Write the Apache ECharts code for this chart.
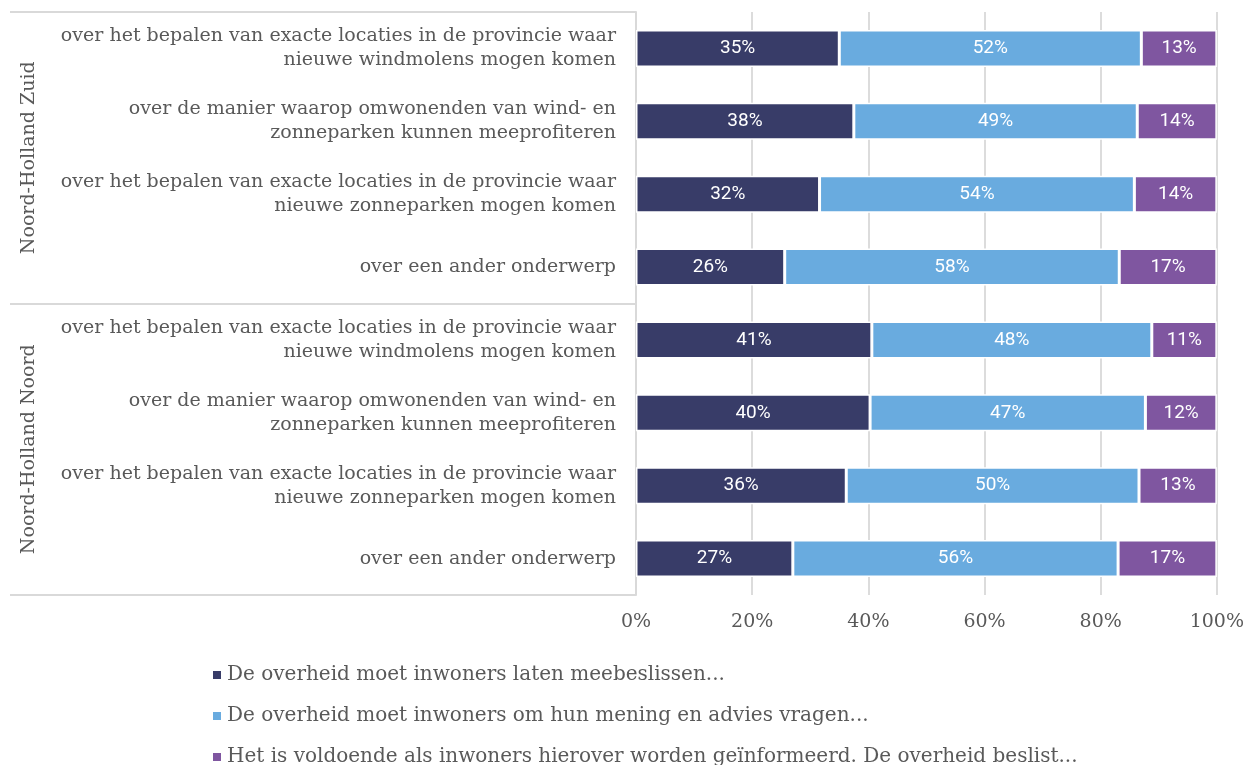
<!DOCTYPE html>
<html>
<head>
<meta charset="utf-8">
<script src="https://cdn.jsdelivr.net/npm/echarts@6/dist/echarts.min.js"></script>
<style>
  html, body { margin: 0; padding: 0; background: #fff; }
  #chart { width: 1247px; height: 765px; }
</style>
</head>
<body>
<div id="chart"></div>
<script>
  // categorieen (van boven naar beneden)
  var topics = [
    'over het bepalen van exacte locaties in de provincie waar\nnieuwe windmolens mogen komen',
    'over de manier waarop omwonenden van wind- en\nzonneparken kunnen meeprofiteren',
    'over het bepalen van exacte locaties in de provincie waar\nnieuwe zonneparken mogen komen',
    'over een ander onderwerp',
    'over het bepalen van exacte locaties in de provincie waar\nnieuwe windmolens mogen komen',
    'over de manier waarop omwonenden van wind- en\nzonneparken kunnen meeprofiteren',
    'over het bepalen van exacte locaties in de provincie waar\nnieuwe zonneparken mogen komen',
    'over een ander onderwerp'
  ];
  var regions = ['Noord-Holland Zuid', 'Noord-Holland Noord'];
  var seriesNames = [
    'De overheid moet inwoners laten meebeslissen...',
    'De overheid moet inwoners om hun mening en advies vragen...',
    'Het is voldoende als inwoners hierover worden geïnformeerd. De overheid beslist...'
  ];
  var meebeslissen = [35, 37.5, 31.6, 25.6, 40.6, 40.3, 36.2, 27];
  var advies = [52, 48.8, 54.2, 57.6, 48.2, 47.4, 50.4, 56];
  var informeren = [13, 13.7, 14.2, 16.8, 11.2, 12.3, 13.4, 17];
  var colors = ['#383c68', '#69abdf', '#7f56a0'];

  var serif = '"DejaVu Serif", serif';
  var grey = '#595959';

  var myChart = echarts.init(document.getElementById('chart'));

  function makeSeries(name, data, color) {
    return {
      name: name,
      type: 'bar',
      stack: 'totaal',
      yAxisIndex: 0,
      barWidth: 37,
      data: data,
      itemStyle: { color: color, borderColor: '#fff', borderWidth: 1.5 },
      label: {
        show: true,
        position: 'inside',
        color: '#fff',
        fontFamily: 'Roboto, sans-serif',
        fontSize: 19,
        formatter: function (p) { return Math.round(p.value) + '%'; }
      }
    };
  }

  var option = {
    animation: false,
    color: colors,
    grid: { left: 636, right: 30, top: 12, bottom: 170, containLabel: false },
    legend: {
      orient: 'vertical',
      left: 206,
      top: 660,
      height: 130,
      itemWidth: 10,
      itemHeight: 10,
      itemGap: 21,
      icon: 'rect',
      textStyle: { fontFamily: serif, fontSize: 20, color: grey },
      data: seriesNames
    },
    xAxis: {
      type: 'value',
      min: 0,
      max: 100,
      interval: 20,
      axisLine: { show: false },
      axisTick: { show: false },
      splitLine: { lineStyle: { color: '#dcdcdc', width: 2 } },
      axisLabel: {
        formatter: '{value}%',
        margin: 18,
        fontFamily: serif,
        fontSize: 19,
        color: grey
      }
    },
    yAxis: [
      {
        type: 'category',
        inverse: true,
        data: topics,
        axisLine: { show: true, lineStyle: { color: '#d9d9d9', width: 2 } },
        axisTick: { show: false },
        axisLabel: {
          margin: 20,
          align: 'right',
          fontFamily: serif,
          fontSize: 19,
          lineHeight: 24,
          color: grey
        }
      },
      {
        type: 'category',
        inverse: true,
        data: regions,
        position: 'left',
        axisLine: { show: false },
        splitLine: { show: false },
        axisTick: { show: true, length: 626, lineStyle: { color: '#d9d9d9', width: 2 } },
        axisLabel: {
          rotate: 90,
          margin: 597,
          fontFamily: serif,
          fontSize: 19,
          color: grey
        }
      }
    ],
    series: [
      makeSeries(seriesNames[0], meebeslissen, colors[0]),
      makeSeries(seriesNames[1], advies, colors[1]),
      makeSeries(seriesNames[2], informeren, colors[2])
    ]
  };
  myChart.setOption(option);
</script>
</body>
</html>
